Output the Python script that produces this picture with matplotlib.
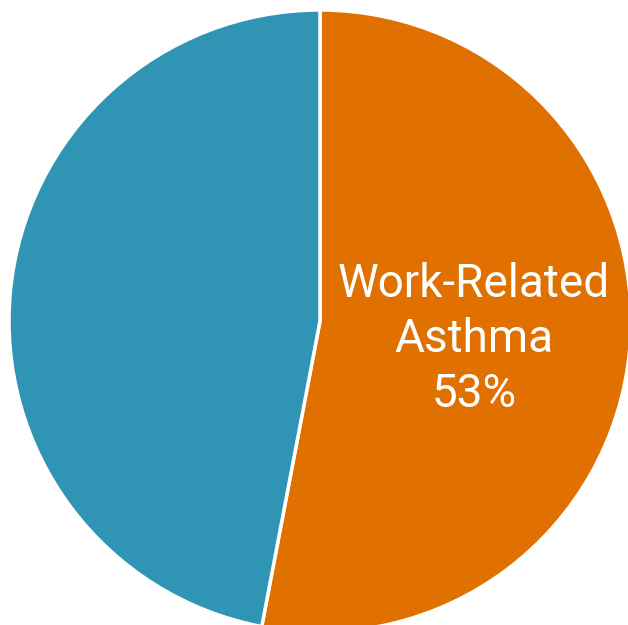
import matplotlib.pyplot as plt

labels = ['Work-Related\nAsthma\n53%', '']
shares = [53, 47]
colors = ['#E07000', '#3094B4']

fig = plt.figure(figsize=(6.28, 6.25), dpi=100)
ax = fig.add_axes([0, 0, 1, 1])

ax.pie(shares, colors=colors, startangle=90, counterclock=False,
       center=(320, 625 - 321), radius=311,
       wedgeprops=dict(edgecolor='white', linewidth=2.5))

ax.text(474, 625 - 339, labels[0], color='white', fontsize=33,
        family='Roboto', ha='center', va='center', linespacing=1.32)

ax.set_xlim(0, 628)
ax.set_ylim(0, 625)
ax.set_aspect('equal')
ax.axis('off')

plt.savefig('out.png', dpi=100)
